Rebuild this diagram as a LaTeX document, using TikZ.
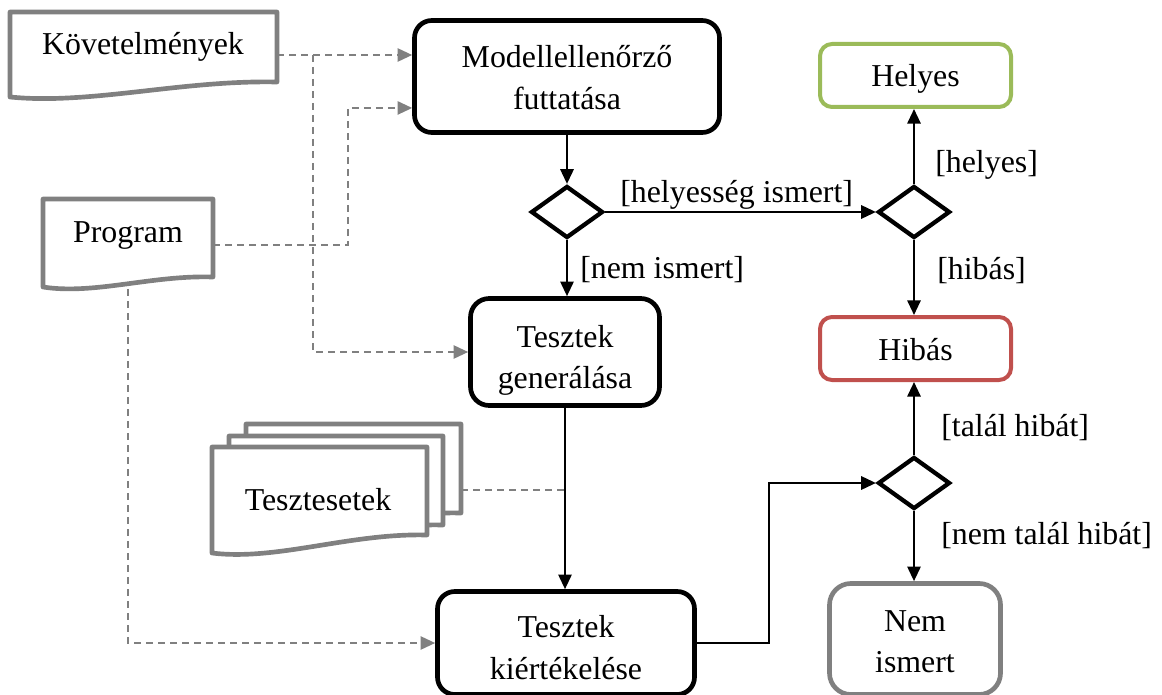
\documentclass[tikz,border=0pt]{standalone}
\usepackage{fontspec}
\setmainfont{Liberation Serif}
\usetikzlibrary{arrows.meta,shapes.geometric,calc}
\definecolor{docgray}{RGB}{128,128,128}
\definecolor{okgreen}{RGB}{155,187,89}
\definecolor{errred}{RGB}{192,80,77}
% document outline: x-left, x-right, y-top, y-bottom-left, y-bottom-right
\newcommand{\docoutline}[6][]{%
  \draw[docline,#1] (#2,#5) -- (#2,#4) -- (#3,#4) -- (#3,#6)
    .. controls ({#2+0.64*(#3-#2)},{#6-2}) and ({#2+0.3*(#3-#2)},{#5+8}) .. (#2,#5) -- cycle;}
\begin{document}
\begin{tikzpicture}[x=0.75pt,y=-0.75pt,
  font=\fontsize{23.9}{31}\selectfont,
  proc/.style={draw=black, line width=3.5pt, align=center, fill=white, inner sep=0pt},
  outcome/.style={line width=3pt, rounded corners=9pt, align=center, fill=white, inner sep=0pt},
  boxtext/.style={align=center, inner sep=0pt},
  decision/.style={diamond, draw=black, line width=3.2pt, minimum width=54pt, minimum height=39pt, inner sep=0pt, fill=white},
  docline/.style={draw=docgray, line width=3.5pt, fill=white, line join=round},
  doctext/.style={inner sep=0pt},
  lbl/.style={anchor=west, inner sep=0pt},
  arr/.style={draw=black, line width=1.5pt, -{Triangle[length=11pt,width=10pt]}},
  dashline/.style={draw=docgray, line width=1.4pt, dash pattern=on 5.5pt off 3.5pt},
  dasharr/.style={dashline, -{Triangle[length=11pt,width=10pt]}},
]
\useasboundingbox (0,0) rectangle (1162,695);

% input documents
\docoutline{10}{277}{12}{97}{82}
\docoutline{43}{213}{199}{287}{277}
\docoutline{246}{461}{424}{531}{513}
\docoutline{229}{443}{436}{542}{525}
\docoutline{212}{427}{447}{553}{535}
\node[doctext] (kov) at (143,47) {Követelmények};
\node[doctext] (prog) at (128,236) {Program};
\node[doctext] (tcases) at (318,500) {Tesztesetek};
\coordinate (kovout) at (277,55);
\coordinate (progout) at (213,245);
\coordinate (progdown) at (128,289);
\coordinate (tcout) at (461,490);

% activities
\node[proc, minimum width=228.75pt, minimum height=84pt, rounded corners=13pt,
      label={[boxtext, yshift=-0.8pt]center:Modellellenőrző\\futtatása}] (modell) at (567,76.5) {};
\node[proc, minimum width=141.75pt, minimum height=80.25pt, rounded corners=14pt,
      label={[boxtext, yshift=-6.5pt]center:Tesztek\\generálása}] (gen) at (565,352) {};
\node[proc, minimum width=192.75pt, minimum height=77.25pt, rounded corners=13pt,
      label={[boxtext, yshift=-3.5pt]center:Tesztek\\kiértékelése}] (kiert) at (566,643) {};

% decisions
\node[decision] (d1) at (567,212) {};
\node[decision] (d2) at (914,212) {};
\node[decision] (d3) at (914,483) {};

% outcomes
\node[outcome, draw=okgreen, minimum width=143.25pt, minimum height=47.25pt,
      label={[boxtext, yshift=-2.2pt]center:Helyes}] (helyes) at (915.5,75.5) {};
\node[outcome, draw=errred, minimum width=143.25pt, minimum height=47.25pt,
      label={[boxtext, yshift=-0.8pt]center:Hibás}] (hibas) at (915.5,348.5) {};
\node[outcome, draw=docgray, line width=3.5pt, minimum width=128.25pt, minimum height=83.25pt, rounded corners=16pt,
      label={[boxtext, yshift=-2pt]center:Nem\\ismert}] (nemism) at (915,639) {};

% data flows
\draw[dasharr] (kovout) -- (kovout -| modell.west);
\draw[dasharr] (kovout) -- ++(36,0) |- (gen.west);
\draw[dasharr] (progout) -- ++(135,0) |- ([yshift=-23.6pt]modell.west);
\draw[dasharr] (progdown) |- (kiert.west);
\draw[dashline] (tcout) -- (tcout -| gen.south);

% control flows
\draw[arr] (modell.south) -- (modell.south |- d1.north);
\draw[arr] (d1.south) -- (d1.south |- gen.north);
\draw[arr] (d1.east) -- (d2.west);
\draw[arr] (d2.north) -- (d2.north |- helyes.south);
\draw[arr] (d2.south) -- (d2.south |- hibas.north);
\draw[arr] (d3.north) -- (d3.north |- hibas.south);
\draw[arr] (d3.south) -- (d3.south |- nemism.north);
\draw[arr] (gen.south) -- (gen.south |- kiert.north);
\draw[arr] (kiert.east) -- ++(72,0) |- (d3.west);

% guards
\node[lbl] (lhi) at (620,195) {[helyesség ismert]};
\node[lbl] (lni) at (580,270) {[nem ismert]};
\node[lbl] (lhe) at (935,165) {[helyes]};
\node[lbl] (lhb) at (937,271) {[hibás]};
\node[lbl] (lth) at (941,428) {[talál hibát]};
\node[lbl] (lnth) at (941,536) {[nem talál hibát]};
\end{tikzpicture}
\end{document}
